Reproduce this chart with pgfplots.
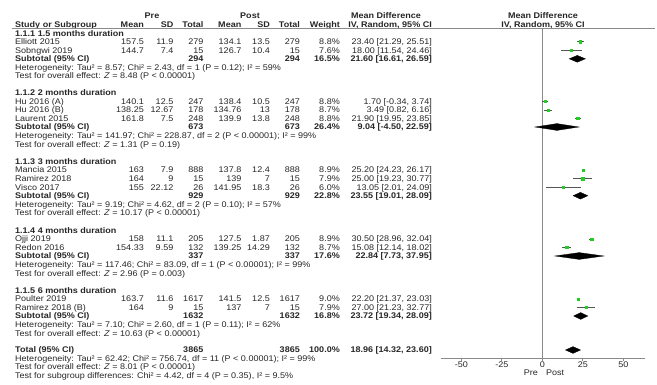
\documentclass[border=0pt]{standalone}
\usepackage{fontspec}
\setmainfont[FakeStretch=1.1]{Liberation Sans}
\usepackage{pgfplots}
\pgfplotsset{compat=1.18}
\usepackage{pgfplotstable}

\pgfplotstableread{
y md lo hi
-41.8 23.40 21.29 25.51
-50.3 18.00 11.54 24.46
-101.4 1.70 -0.34 3.74
-110.0 3.49 0.82 6.16
-118.5 21.90 19.95 23.85
-170.0 25.20 24.23 26.17
-178.6 25.00 19.23 30.77
-187.2 13.05 2.01 24.09
-239.0 30.50 28.96 32.04
-247.5 15.08 12.14 18.02
-299.0 22.20 21.37 23.03
-307.5 27.00 21.23 32.77
}\studies

\definecolor{mkgreen}{HTML}{22CC22}
\definecolor{cigray}{HTML}{555555}
\definecolor{lngray}{HTML}{8A8A8A}
\definecolor{txt}{HTML}{262626}

% column positions (px)
\def\cLeft{15}
\def\cPM{144}
\def\cPS{173.5}
\def\cPT{203.5}
\def\cQM{241.5}
\def\cQS{270}
\def\cQT{300}
\def\cW{340}
\def\cMD{432}

% text helpers: x in px, y = visual centre row in px
\newcommand\TL[3]{\node[anchor=base west,inner sep=0pt] at ({#1pt},{-#2pt-2.95pt}) {#3};}
\newcommand\TR[3]{\node[anchor=base east,inner sep=0pt] at ({#1pt},{-#2pt-2.95pt}) {#3};}
\newcommand\TC[3]{\node[anchor=base,inner sep=0pt] at ({#1pt},{-#2pt-2.95pt}) {#3};}
\newcommand\Row[9]{%
  \TL{\cLeft}{#1}{#2}\TR{\cPM}{#1}{#3}\TR{\cPS}{#1}{#4}\TR{\cPT}{#1}{#5}%
  \TR{\cQM}{#1}{#6}\TR{\cQS}{#1}{#7}\TR{\cQT}{#1}{#8}\TR{\cW}{#1}{#9}}
\newcommand\Sub[5]{%
  \TL{\cLeft}{#1}{\bfseries #2}\TR{\cPT}{#1}{\bfseries #3}\TR{\cQT}{#1}{\bfseries #3}%
  \TR{\cW}{#1}{\bfseries #4}\TR{\cMD}{#1}{\bfseries #5}}

\begin{document}
\begin{tikzpicture}[font=\fontsize{8.2}{10}\selectfont, text=txt]
\useasboundingbox (0pt,0pt) rectangle (657pt,-385pt);

% header
\TC{152}{15.5}{\bfseries Pre}
\TC{250}{15.5}{\bfseries Post}
\TC{386}{15.5}{\bfseries Mean Difference}
\TC{543}{15.5}{\bfseries Mean Difference}
\TL{\cLeft}{24.5}{\bfseries Study or Subgroup}
\TR{\cPM}{24.5}{\bfseries Mean}
\TR{\cPS}{24.5}{\bfseries SD}
\TR{\cPT}{24.5}{\bfseries Total}
\TR{\cQM}{24.5}{\bfseries Mean}
\TR{\cQS}{24.5}{\bfseries SD}
\TR{\cQT}{24.5}{\bfseries Total}
\TR{\cW}{24.5}{\bfseries Weight}
\TR{\cMD}{24.5}{\bfseries IV, Random, 95\% CI}
\TC{543}{24.5}{\bfseries IV, Random, 95\% CI}
\draw[lngray,line width=0.9pt] (12pt,-28.5pt) -- (655pt,-28.5pt);

% 1.1.1
\TL{\cLeft}{33.2}{\bfseries 1.1.1 1.5 months duration}
\Row{41.8}{Elliott 2015}{157.5}{11.9}{279}{134.1}{13.5}{279}{8.8\%}\TR{\cMD}{41.8}{23.40 [21.29, 25.51]}
\Row{50.3}{Sobngwi 2019}{144.7}{7.4}{15}{126.7}{10.4}{15}{7.6\%}\TR{\cMD}{50.3}{18.00 [11.54, 24.46]}
\Sub{58.8}{Subtotal (95\% CI)}{294}{16.5\%}{21.60 [16.61, 26.59]}
\TL{\cLeft}{67.6}{Heterogeneity: Tau² = 8.57; Chi² = 2.43, df = 1 (P = 0.12); I² = 59\%}
\TL{\cLeft}{76}{Test for overall effect: \textit{Z} = 8.48 (P < 0.00001)}

% 1.1.2
\TL{\cLeft}{92.8}{\bfseries 1.1.2 2 months duration}
\Row{101.4}{Hu 2016 (A)}{140.1}{12.5}{247}{138.4}{10.5}{247}{8.8\%}\TR{\cMD}{101.4}{1.70 [-0.34, 3.74]}
\Row{110}{Hu 2016 (B)}{138.25}{12.67}{178}{134.76}{13}{178}{8.7\%}\TR{\cMD}{110}{3.49 [0.82, 6.16]}
\Row{118.5}{Laurent 2015}{161.8}{7.5}{248}{139.9}{13.8}{248}{8.8\%}\TR{\cMD}{118.5}{21.90 [19.95, 23.85]}
\Sub{127}{Subtotal (95\% CI)}{673}{26.4\%}{9.04 [-4.50, 22.59]}
\TL{\cLeft}{135.8}{Heterogeneity: Tau² = 141.97; Chi² = 228.87, df = 2 (P < 0.00001); I² = 99\%}
\TL{\cLeft}{144.2}{Test for overall effect: \textit{Z} = 1.31 (P = 0.19)}

% 1.1.3
\TL{\cLeft}{161.3}{\bfseries 1.1.3 3 months duration}
\Row{170}{Mancia 2015}{163}{7.9}{888}{137.8}{12.4}{888}{8.9\%}\TR{\cMD}{170}{25.20 [24.23, 26.17]}
\Row{178.6}{Ramirez 2018}{164}{9}{15}{139}{7}{15}{7.9\%}\TR{\cMD}{178.6}{25.00 [19.23, 30.77]}
\Row{187.2}{Visco 2017}{155}{22.12}{26}{141.95}{18.3}{26}{6.0\%}\TR{\cMD}{187.2}{13.05 [2.01, 24.09]}
\Sub{195.7}{Subtotal (95\% CI)}{929}{22.8\%}{23.55 [19.01, 28.09]}
\TL{\cLeft}{204.5}{Heterogeneity: Tau² = 9.19; Chi² = 4.62, df = 2 (P = 0.10); I² = 57\%}
\TL{\cLeft}{212.9}{Test for overall effect: \textit{Z} = 10.17 (P < 0.00001)}

% 1.1.4
\TL{\cLeft}{230.2}{\bfseries 1.1.4 4 months duration}
\Row{239}{Ojji 2019}{158}{11.1}{205}{127.5}{1.87}{205}{8.9\%}\TR{\cMD}{239}{30.50 [28.96, 32.04]}
\Row{247.5}{Redon 2016}{154.33}{9.59}{132}{139.25}{14.29}{132}{8.7\%}\TR{\cMD}{247.5}{15.08 [12.14, 18.02]}
\Sub{256}{Subtotal (95\% CI)}{337}{17.6\%}{22.84 [7.73, 37.95]}
\TL{\cLeft}{264.8}{Heterogeneity: Tau² = 117.46; Chi² = 83.09, df = 1 (P < 0.00001); I² = 99\%}
\TL{\cLeft}{273.2}{Test for overall effect: \textit{Z} = 2.96 (P = 0.003)}

% 1.1.5
\TL{\cLeft}{290.4}{\bfseries 1.1.5 6 months duration}
\Row{299}{Poulter 2019}{163.7}{11.6}{1617}{141.5}{12.5}{1617}{9.0\%}\TR{\cMD}{299}{22.20 [21.37, 23.03]}
\Row{307.5}{Ramirez 2018 (B)}{164}{9}{15}{137}{7}{15}{7.9\%}\TR{\cMD}{307.5}{27.00 [21.23, 32.77]}
\Sub{316}{Subtotal (95\% CI)}{1632}{16.8\%}{23.72 [19.34, 28.09]}
\TL{\cLeft}{324.8}{Heterogeneity: Tau² = 7.10; Chi² = 2.60, df = 1 (P = 0.11); I² = 62\%}
\TL{\cLeft}{333.2}{Test for overall effect: \textit{Z} = 10.63 (P < 0.00001)}

% total
\Sub{350}{Total (95\% CI)}{3865}{100.0\%}{18.96 [14.32, 23.60]}
\TL{\cLeft}{358.7}{Heterogeneity: Tau² = 62.42; Chi² = 756.74, df = 11 (P < 0.00001); I² = 99\%}
\TL{\cLeft}{367}{Test for overall effect: \textit{Z} = 8.01 (P < 0.00001)}
\TL{\cLeft}{375.5}{Test for subgroup differences: Chi² = 4.42, df = 4 (P = 0.35), I² = 9.5\%}

\begin{axis}[
  at={(440.7pt,-358.3pt)}, anchor=south west,
  scale only axis, width=204.3pt, height=329.8pt,
  xmin=-62.7, xmax=63.4, ymin=-358.3, ymax=-28.5,
  axis x line=bottom, axis y line=none,
  x axis line style={-, lngray, line width=1pt},
  xtick={-50,-25,0,25,50},
  xticklabels={-50,-25,0,25,50},
  tick align=outside, major tick length=2.5pt,
  every tick/.style={lngray, line width=0.8pt},
  xticklabel style={font=\fontsize{8.2}{10}\selectfont, text=txt, inner sep=1pt},
  clip=false,
]
\addplot[lngray, line width=0.9pt] coordinates {(0,-28.5) (0,-358.3)};
\addplot[only marks, mark=square*, mark size=1.1pt,
  mark options={fill=mkgreen, draw=mkgreen},
  error bars/.cd, x dir=both, x explicit, error mark=none,
  error bar style={cigray, line width=0.7pt}]
  table[x=md, y=y,
        x error plus expr=\thisrow{hi}-\thisrow{md},
        x error minus expr=\thisrow{md}-\thisrow{lo}] {\studies};
\addplot[fill=black, draw=black, line width=0.3pt] coordinates {(16.61,-58.8) (21.60,-55.4) (26.59,-58.8) (21.60,-62.2)} -- cycle;
\addplot[fill=black, draw=black, line width=0.3pt] coordinates {(-4.50,-127) (9.04,-123.6) (22.59,-127) (9.04,-130.4)} -- cycle;
\addplot[fill=black, draw=black, line width=0.3pt] coordinates {(19.01,-195.7) (23.55,-192.3) (28.09,-195.7) (23.55,-199.1)} -- cycle;
\addplot[fill=black, draw=black, line width=0.3pt] coordinates {(7.73,-256) (22.84,-252.6) (37.95,-256) (22.84,-259.4)} -- cycle;
\addplot[fill=black, draw=black, line width=0.3pt] coordinates {(19.34,-316) (23.72,-312.6) (28.09,-316) (23.72,-319.4)} -- cycle;
\addplot[fill=black, draw=black, line width=0.3pt] coordinates {(14.32,-350) (18.96,-346.6) (23.60,-350) (18.96,-353.4)} -- cycle;
\end{axis}
\node[anchor=base east, inner sep=0pt] at (538pt,-375pt) {Pre};
\node[anchor=base west, inner sep=0pt] at (546pt,-375pt) {Post};
\end{tikzpicture}
\end{document}
